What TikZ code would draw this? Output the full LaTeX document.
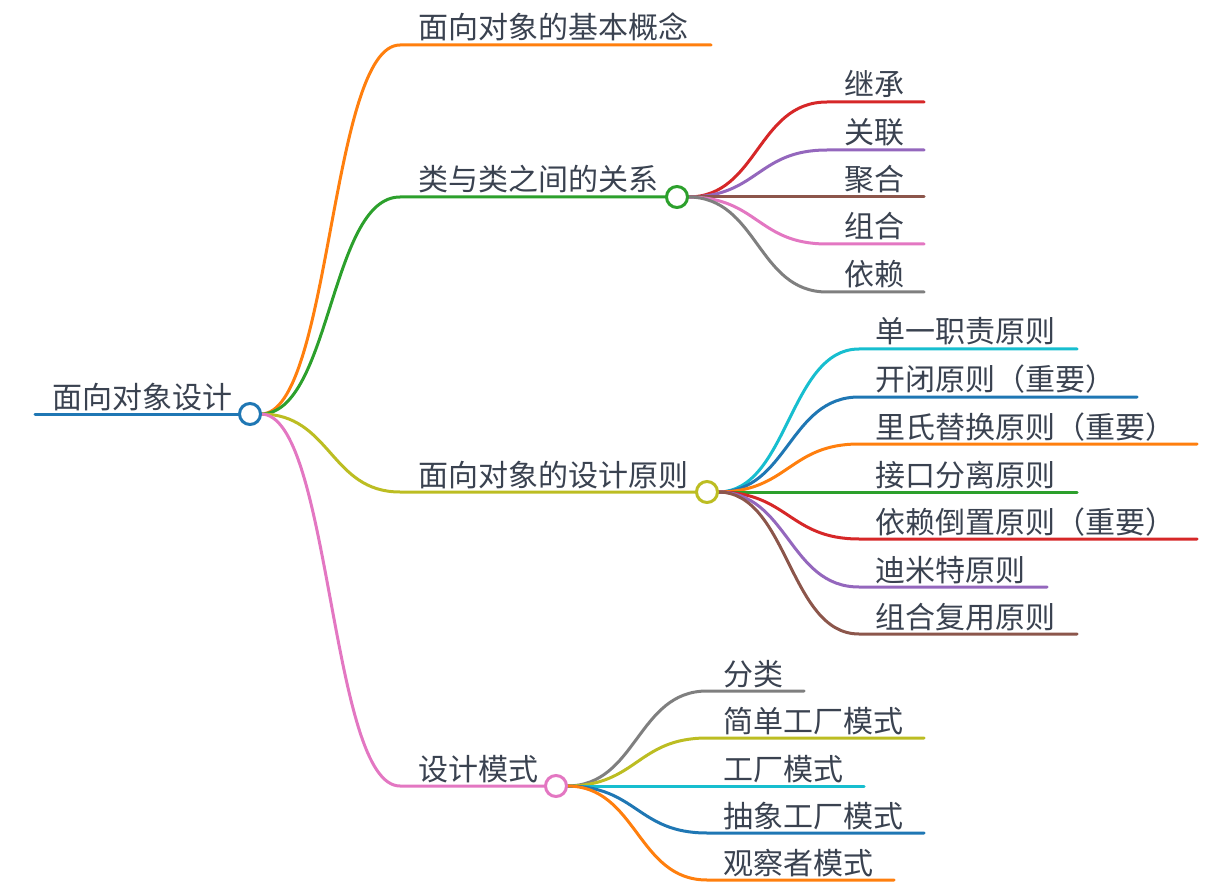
\documentclass[tikz,border=0pt]{standalone}
\usepackage{fontspec}
\newfontfamily\cjk{Noto Sans CJK SC}
\definecolor{cblue}{HTML}{1F77B4}
\definecolor{corange}{HTML}{FF7F0E}
\definecolor{cgreen}{HTML}{2CA02C}
\definecolor{cred}{HTML}{D62728}
\definecolor{cpurple}{HTML}{9467BD}
\definecolor{cbrown}{HTML}{8C564B}
\definecolor{cpink}{HTML}{E377C2}
\definecolor{cgray}{HTML}{7F7F7F}
\definecolor{colive}{HTML}{BCBD22}
\definecolor{ccyan}{HTML}{17BECF}
\definecolor{txt}{HTML}{3A4250}
\tikzset{
  lbl/.style={anchor=base west, inner sep=0pt, font=\cjk\fontsize{30}{30}\selectfont, text=txt},
  edge/.style={line width=3pt, line cap=round},
  dot/.style={circle, draw=#1, line width=3pt, fill=white, minimum size=21pt, inner sep=0pt}
}
\begin{document}
\begin{tikzpicture}[x=1pt,y=-1pt]
\useasboundingbox (0,0) rectangle (1232,893);
% circles (positions)
\coordinate (root) at (250,414);
\coordinate (gc) at (677,197);
\coordinate (oc) at (707,492);
\coordinate (pc) at (556,786);
\coordinate (rootE) at (261,414); \coordinate (rootW) at (239,414);
\coordinate (gcE) at (688,197);   \coordinate (gcW) at (666,197);
\coordinate (ocE) at (718,492);   \coordinate (ocW) at (696,492);
\coordinate (pcE) at (567,786);   \coordinate (pcW) at (545,786);
\coordinate (rs) at (35,414);
\node[lbl] (rt) at (52,408) {面向对象设计};
% level 1
\coordinate (l1s) at (400,45);  \coordinate (l1e) at (711,45);
\coordinate (l2s) at (400,197);
\coordinate (l3s) at (400,492);
\coordinate (l4s) at (400,786);
\node[lbl] (l1t) at (418,39) {面向对象的基本概念};
\node[lbl] (l2t) at (418,191) {类与类之间的关系};
\node[lbl] (l3t) at (418,486) {面向对象的设计原则};
\node[lbl] (l4t) at (418,780) {设计模式};
\draw[edge,cblue] (rs) -- (rootW);
\draw[edge,corange] (rootE) .. controls +(70,0) and +(-70,0) .. (l1s) -- (l1e);
\draw[edge,cgreen] (rootE) .. controls +(70,0) and +(-70,0) .. (l2s) -- (gcW);
\draw[edge,colive] (rootE) .. controls +(70,0) and +(-70,0) .. (l3s) -- (ocW);
\draw[edge,cpink] (rootE) .. controls +(70,0) and +(-70,0) .. (l4s) -- (pcW);
% green children
\foreach \n/\y/\c/\t/\e in {ga/102/cred/继承/924, gb/150/cpurple/关联/924, gd/197/cbrown/聚合/924, ge/244/cpink/组合/924, gf/292/cgray/依赖/924}{
  \coordinate (\n s) at (827,\y); \coordinate (\n e) at (\e,\y);
  \node[lbl] (\n t) at (844,\y-6) {\t};
  \draw[edge,\c] (gcE) .. controls +(70,0) and +(-70,0) .. (\n s) -- (\n e);
}
% olive children
\foreach \n/\y/\c/\t/\e in {oa/349/ccyan/单一职责原则/1077, ob/397/cblue/开闭原则（重要）/1137, od/444/corange/里氏替换原则（重要）/1197, oe/492/cgreen/接口分离原则/1077, of/539/cred/依赖倒置原则（重要）/1197, og/587/cpurple/迪米特原则/1047, oh/634/cbrown/组合复用原则/1077}{
  \coordinate (\n s) at (859,\y); \coordinate (\n e) at (\e,\y);
  \node[lbl] (\n t) at (875,\y-6) {\t};
  \draw[edge,\c] (ocE) .. controls +(70,0) and +(-70,0) .. (\n s) -- (\n e);
}
% pink children
\foreach \n/\y/\c/\t/\e in {pa/691/cgray/分类/804, pb/738/colive/简单工厂模式/924, pd/786/ccyan/工厂模式/864, pe/833/cblue/抽象工厂模式/924, pf/880/corange/观察者模式/894}{
  \coordinate (\n s) at (707,\y); \coordinate (\n e) at (\e,\y);
  \node[lbl] (\n t) at (723,\y-6) {\t};
  \draw[edge,\c] (pcE) .. controls +(70,0) and +(-70,0) .. (\n s) -- (\n e);
}
% circles on top
\node[dot=cblue] (rootc) at (root) {};
\node[dot=cgreen] (gcc) at (gc) {};
\node[dot=colive] (occ) at (oc) {};
\node[dot=cpink] (pcc) at (pc) {};
\end{tikzpicture}
\end{document}
